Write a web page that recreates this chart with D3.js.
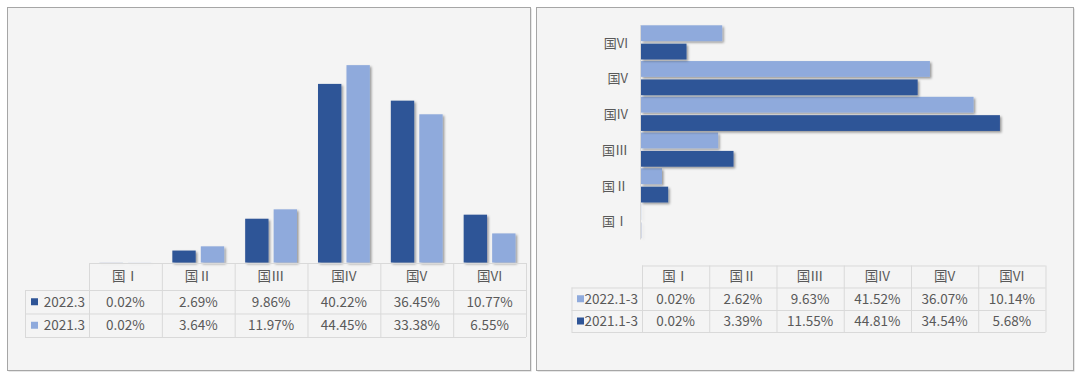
<!DOCTYPE html>
<html><head><meta charset="utf-8">
<script src="https://cdn.jsdelivr.net/npm/d3@7"></script>
<style>
html,body{margin:0;padding:0;background:#fff;}
svg{display:block;}
text{font-family:"Noto Sans CJK SC","Noto Sans",sans-serif;fill:#595959;}
</style></head>
<body>
<svg id="c" width="1080" height="377"></svg>
<script>
// ---- data ----
const categories = ["国Ⅰ","国Ⅱ","国Ⅲ","国IV","国V","国VI"];
const leftSeries = ["2022.3","2021.3"];
const left2022 = [0.02, 2.69, 9.86, 40.22, 36.45, 10.77];
const left2021 = [0.02, 3.64, 11.97, 44.45, 33.38, 6.55];
const rightSeries = ["2022.1-3","2021.1-3"];
const right2022 = [0.02, 2.62, 9.63, 41.52, 36.07, 10.14];
const right2021 = [0.02, 3.39, 11.55, 44.81, 34.54, 5.68];

const DARK = "#2F5597", LIGHT = "#8FAADC";
const GRID = "#d9d9d9";
const svg = d3.select("#c");
const fmt = v => v.toFixed(2) + "%";

const defs = svg.append("defs");
const f = defs.append("filter").attr("id","sh").attr("x","-20%").attr("y","-20%").attr("width","140%").attr("height","160%");
f.append("feDropShadow").attr("dx",1.6).attr("dy",1.6).attr("stdDeviation",1.3).attr("flood-color","#000").attr("flood-opacity",0.38);

// ---- panels ----
function panel(x0,y0,x1,y1){
  svg.append("rect").attr("x",x0+1.5).attr("y",y0+1.5).attr("width",x1-x0).attr("height",y1-y0).attr("fill","#cfcfcf");
  svg.append("rect").attr("x",x0+0.5).attr("y",y0+0.5).attr("width",x1-x0).attr("height",y1-y0)
    .attr("fill","#f4f4f4").attr("stroke","#a6a6a6").attr("stroke-width",1);
}
panel(7,7,530,370);
panel(536,7,1073,370);

// ---- table helper ----
function table(cfg){
  const {x0,x1,legX,rowsY,series,values,colors,fs} = cfg;
  const col = d3.scaleBand().domain(categories).range([x0,x1]);
  const g = svg.append("g");
  const yTop = rowsY[0], yBot = rowsY[rowsY.length-1];
  // horizontal lines
  rowsY.forEach((y,i)=>{
    g.append("line").attr("x1", i===0 ? x0 : legX).attr("x2",x1).attr("y1",y+0.5).attr("y2",y+0.5).attr("stroke",GRID);
  });
  // vertical lines
  g.append("line").attr("x1",legX+0.5).attr("x2",legX+0.5).attr("y1",rowsY[1]).attr("y2",yBot).attr("stroke",GRID);
  categories.forEach(c=>{
    g.append("line").attr("x1",col(c)+0.5).attr("x2",col(c)+0.5).attr("y1",yTop).attr("y2",yBot).attr("stroke",GRID);
  });
  g.append("line").attr("x1",x1+0.5).attr("x2",x1+0.5).attr("y1",yTop).attr("y2",yBot).attr("stroke",GRID);
  // header
  categories.forEach(c=>{
    g.append("text").attr("x",col(c)+col.bandwidth()/2).attr("y",(rowsY[0]+rowsY[1])/2).attr("dy","0.36em")
      .attr("text-anchor","middle").style("font-size",fs+"px").text(c);
  });
  series.forEach((s,i)=>{
    const ym = (rowsY[i+1]+rowsY[i+2])/2;
    g.append("rect").attr("x",cfg.swX).attr("y",ym-3.5).attr("width",7).attr("height",7).attr("fill",colors[i]);
    g.append("text").attr("x",x0-4).attr("y",ym).attr("dy","0.36em").attr("text-anchor","end").style("font-size",fs+"px").text(s);
    values[i].forEach((v,j)=>{
      const c = categories[j];
      g.append("text").attr("x",col(c)+col.bandwidth()/2).attr("y",ym).attr("dy","0.36em")
        .attr("text-anchor","middle").style("font-size",fs+"px").text(fmt(v));
    });
  });
  return col;
}

// ---- left chart ----
const lx = d3.scaleBand().domain(categories).range([89,526]);
const lx1 = d3.scaleBand().domain(leftSeries).range([10.5, lx.bandwidth()-10.5]).paddingInner(0.18);
const ly = d3.scaleLinear().domain([0,50]).range([262.5, 262.5-222]);
const lvals = [left2022, left2021];
const lcol = [DARK, LIGHT];
leftSeries.forEach((s,i)=>{
  svg.append("g").attr("filter","url(#sh)").selectAll("rect").data(lvals[i]).join("rect")
    .attr("x",(d,j)=>lx(categories[j])+lx1(s))
    .attr("width",lx1.bandwidth())
    .attr("y",d=>ly(d))
    .attr("height",d=>ly(0)-ly(d))
    .attr("fill",lcol[i]);
});
table({x0:89,x1:526,legX:25,swX:31,rowsY:[263,290,313.5,337],series:leftSeries,values:lvals,colors:lcol,fs:13.5});

// ---- right chart ----
const ryCats = categories.slice().reverse();
const ry = d3.scaleBand().domain(ryCats).range([25,239.5]);
const ry1 = d3.scaleBand().domain(rightSeries).range([0.3, ry.bandwidth()-1.3]).paddingInner(0.14);
const rx = d3.scaleLinear().domain([0,50]).range([641, 641+400.5]);
const rvals = [right2022, right2021];
const rcol = [LIGHT, DARK];
rightSeries.forEach((s,i)=>{
  svg.append("g").attr("filter","url(#sh)").selectAll("rect").data(rvals[i]).join("rect")
    .attr("y",(d,j)=>ry(categories[j])+ry1(s))
    .attr("height",ry1.bandwidth())
    .attr("x",rx(0))
    .attr("width",d=>rx(d)-rx(0))
    .attr("fill",rcol[i]);
});
svg.append("line").attr("x1",640.5).attr("x2",640.5).attr("y1",25).attr("y2",239.5).attr("stroke",GRID);
ryCats.forEach(c=>{
  svg.append("text").attr("x",628).attr("y",ry(c)+ry.bandwidth()/2).attr("dy","0.36em")
    .attr("text-anchor","end").style("font-size","13px").text(c);
});
table({x0:642,x1:1045.5,legX:571.5,swX:577,rowsY:[265.5,287.5,310,332],series:rightSeries,values:rvals,colors:rcol,fs:13.5});
</script>
</body></html>
